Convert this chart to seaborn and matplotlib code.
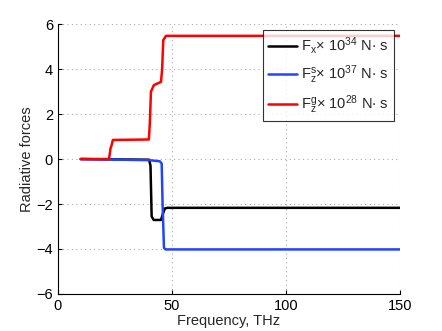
import matplotlib
matplotlib.use("Agg")
import matplotlib.pyplot as plt
import seaborn as sns
import pandas as pd

# Data (breakpoints of each curve)
fx_x = [10, 40.0, 40.6, 41.1, 42.0, 45.2, 46.0, 46.9, 48.0, 150]
fx_y = [0.0, -0.03, -0.3, -2.55, -2.71, -2.71, -2.45, -2.2, -2.17, -2.17]

fzs_x = [10, 40.0, 44.7, 45.5, 45.9, 46.5, 47.2, 150]
fzs_y = [0.0, -0.05, -0.1, -0.2, -2.0, -3.95, -4.02, -4.02]

fzg_x = [10, 22.4, 23.1, 23.5, 24.1, 39.9, 40.3, 40.8, 42.1, 45.2, 45.7, 46.2, 47.4, 150]
fzg_y = [0.0, 0.0, 0.49, 0.6, 0.85, 0.87, 1.6, 3.0, 3.29, 3.43, 4.0, 5.29, 5.48, 5.48]

labels = [r"F$_{\mathrm{x}}$$\times$ 10$^{34}$ N$\cdot$ s",
          r"F$_{\mathrm{z}}^{\mathrm{s}}$$\times$ 10$^{37}$ N$\cdot$ s",
          r"F$_{\mathrm{z}}^{\mathrm{g}}$$\times$ 10$^{28}$ N$\cdot$ s"]
colors = ["#000000", "#2244ff", "#ff0000"]

xticks = [0, 50, 100, 150]
yticks = [-6, -4, -2, 0, 2, 4, 6]

sns.set_style("white")
plt.rcParams["font.family"] = ["Liberation Sans", "DejaVu Sans"]
plt.rcParams["mathtext.fontset"] = "custom"
plt.rcParams["mathtext.rm"] = "Liberation Sans"
plt.rcParams["mathtext.it"] = "Liberation Sans"
plt.rcParams["mathtext.default"] = "regular"

fig = plt.figure(figsize=(4.42, 3.31), dpi=100)
ax = fig.add_axes([0.131, 0.112, 0.774, 0.815])

series = [(fx_x, fx_y), (fzs_x, fzs_y), (fzg_x, fzg_y)]
for (xs, ys), lab, c in zip(series, labels, colors):
    df = pd.DataFrame({"x": xs, "y": ys})
    sns.lineplot(data=df, x="x", y="y", ax=ax, color=c, linewidth=1.8,
                 label=lab, estimator=None, sort=False)

ax.set_xlim(0, 150)
ax.set_ylim(-6, 6)
ax.set_xticks(xticks)
ax.set_yticks(yticks)
ax.set_yticklabels([str(t).replace("-", "\u2212") for t in yticks])
ax.grid(True, linestyle=(0, (1, 3)), color="#aaaaaa", linewidth=0.8)
for s in ["top", "right"]:
    ax.spines[s].set_visible(False)
for s in ["left", "bottom"]:
    ax.spines[s].set_color("black")
    ax.spines[s].set_linewidth(0.8)
ax.tick_params(direction="in", length=3, labelsize=10.5, colors="black",
               left=True, bottom=True)
ax.set_xlabel("Frequency, THz", fontsize=10.5, labelpad=1)
ax.set_ylabel("Radiative forces", fontsize=10.5, labelpad=2)

leg = ax.legend(loc="upper right", bbox_to_anchor=(0.982, 0.978), fontsize=10.5,
                frameon=True, fancybox=False, handlelength=1.95,
                borderpad=0.35, borderaxespad=0, labelspacing=0.5,
                handletextpad=0.3)
leg.get_frame().set_edgecolor("black")
leg.get_frame().set_linewidth(0.8)

fig.savefig("out.png", dpi=100)
